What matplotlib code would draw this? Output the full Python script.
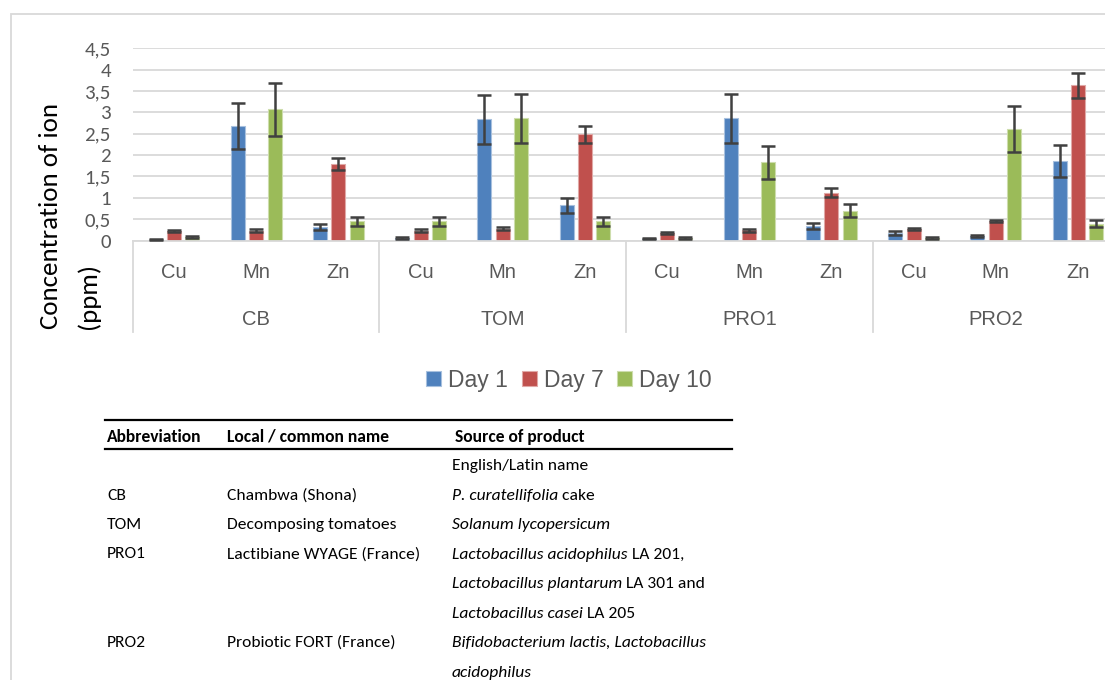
import matplotlib
matplotlib.use("Agg")
import matplotlib.pyplot as plt
from matplotlib import font_manager
from matplotlib.lines import Line2D
from matplotlib.patches import Rectangle
import numpy as np

# chart data
groups = ["CB", "TOM", "PRO1", "PRO2"]
ions = ["Cu", "Mn", "Zn"]
day1 = [0.02, 2.68, 0.31, 0.06, 2.84, 0.82, 0.04, 2.86, 0.33, 0.17, 0.11, 1.86]
day1_err = [0.01, 0.54, 0.07, 0.02, 0.57, 0.17, 0.01, 0.58, 0.07, 0.05, 0.03, 0.38]
day7 = [0.22, 0.23, 1.79, 0.23, 0.28, 2.49, 0.18, 0.24, 1.12, 0.27, 0.46, 3.63]
day7_err = [0.03, 0.03, 0.15, 0.03, 0.03, 0.20, 0.02, 0.03, 0.10, 0.02, 0.03, 0.30]
day10 = [0.08, 3.07, 0.45, 0.45, 2.86, 0.45, 0.06, 1.83, 0.70, 0.06, 2.61, 0.39]
day10_err = [0.02, 0.62, 0.10, 0.10, 0.58, 0.10, 0.02, 0.38, 0.15, 0.02, 0.53, 0.08]
series_names = ["Day 1", "Day 7", "Day 10"]
yticks = [0, 0.5, 1, 1.5, 2, 2.5, 3, 3.5, 4, 4.5]
ytick_labels = ["0", "0,5", "1", "1,5", "2", "2,5", "3", "3,5", "4", "4,5"]
ylabel_lines = ["Concentration of ion", "(ppm)"]

# table below the chart
tab_header = ["Abbreviation", "Local / common name", "Source of product"]
tab_abbrev = ["", "CB", "TOM", "PRO1", "", "", "PRO2", ""]
tab_local = ["", "Chambwa (Shona)", "Decomposing tomatoes", "Lactibiane WYAGE (France)",
             "", "", "Probiotic FORT (France)", ""]
tab_source = [
    [("English/Latin name", "normal")],
    [("P. curatellifolia", "italic"), (" cake", "normal")],
    [("Solanum lycopersicum", "italic")],
    [("Lactobacillus acidophilus", "italic"), (" LA 201,", "normal")],
    [("Lactobacillus plantarum", "italic"), (" LA 301 and", "normal")],
    [("Lactobacillus casei", "italic"), (" LA 205", "normal")],
    [("Bifidobacterium lactis, Lactobacillus", "italic")],
    [("acidophilus", "italic")],
]


def pick_font(names):
    for n in names:
        try:
            font_manager.findfont(n, fallback_to_default=False)
            return n
        except Exception:
            pass
    return "DejaVu Sans"


narrow = pick_font(["Carlito", "Lato", "Liberation Sans"])
sans = pick_font(["Liberation Sans", "DejaVu Sans"])
plt.rcParams["font.family"] = [sans, "DejaVu Sans"]

W, H = 1105, 680
fig = plt.figure(figsize=(W / 100, H / 100), dpi=100)
renderer = fig.canvas.get_renderer()


def fx(x):
    return x / W


def fy(y):
    return 1 - y / H


def fit_size(txt, target_px, **kw):
    # font size that makes txt about target_px wide
    t = fig.text(0, 0, txt, fontsize=10, **kw)
    w = t.get_window_extent(renderer).width
    t.remove()
    return 10 * target_px / w


# outer chart border (runs off the right and bottom edges)
fig.add_artist(Rectangle((fx(11), fy(700)), fx(1120) - fx(11), fy(14) - fy(700),
                         transform=fig.transFigure, fill=False,
                         edgecolor="#D9D9D9", lw=1.3))

ax_left, ax_right, ax_top, ax_bot = 133, 1119, 48.3, 240.5
ax = fig.add_axes([fx(ax_left), fy(ax_bot), fx(ax_right) - fx(ax_left), fy(ax_top) - fy(ax_bot)])

colors = ["#4F81BD", "#C0504D", "#9BBB59"]
edges = ["#A7C0DE", "#E0A8A6", "#CDDDAC"]
x = np.arange(len(groups) * len(ions))
step, bw = 0.223, 0.17
for i, (vals, errs) in enumerate([(day1, day1_err), (day7, day7_err), (day10, day10_err)]):
    ax.bar(x + (i - 1) * step, vals, bw, color=colors[i], edgecolor=edges[i],
           linewidth=0.8, label=series_names[i], zorder=2)
    ax.errorbar(x + (i - 1) * step, vals, yerr=errs, fmt="none", ecolor="#404040",
                elinewidth=1.8, capsize=4.7, capthick=1.8, zorder=3)

ax.set_xlim(-0.5, len(x) - 0.5)
ax.set_ylim(0, 4.5)
ax.set_yticks(yticks)
ax.set_yticklabels(ytick_labels)
ax.tick_params(axis="y", length=0, pad=16, labelsize=15, labelcolor="#595959")
for lab in ax.get_yticklabels():
    lab.set_family([narrow, "DejaVu Sans"])
ax.set_xticks([])
ax.grid(axis="y", color="#D9D9D9", lw=1.3, zorder=0)
ax.set_axisbelow(True)
for s in ["top", "right", "left"]:
    ax.spines[s].set_visible(False)
ax.spines["bottom"].set_color("#D9D9D9")
ax.spines["bottom"].set_linewidth(1.3)

# multi-level category axis
tr = ax.get_xaxis_transform()
hpx = ax_bot - ax_top
for k, xi in enumerate(x):
    ax.text(xi, -(272 - ax_bot) / hpx, ions[k % 3], transform=tr, ha="center", va="center",
            fontsize=14.5, color="#595959")
for g, name in enumerate(groups):
    ax.text(g * 3 + 1, -(319 - ax_bot) / hpx, name, transform=tr, ha="center", va="center",
            fontsize=14.5, color="#595959")
for g in range(len(groups) + 1):
    ax.plot([g * 3 - 0.5, g * 3 - 0.5], [0, -(332 - ax_bot) / hpx], transform=tr,
            color="#D9D9D9", lw=1.3, clip_on=False)

# y axis title, two lines drawn separately
tfont = [narrow, "DejaVu Sans"]
ysz = fit_size(ylabel_lines[0], 226, family=tfont)
fig.text(fx(51), fy(329), ylabel_lines[0], rotation=90, ha="center", va="bottom",
         fontsize=ysz, family=tfont, color="#000000")
fig.text(fx(88), fy(329), ylabel_lines[1], rotation=90, ha="center", va="bottom",
         fontsize=ysz, family=tfont, color="#000000")

leg = ax.legend(loc="center", bbox_to_anchor=(fx(569), fy(380)), bbox_transform=fig.transFigure,
                ncol=3, frameon=False, fontsize=16.5, handlelength=0.65, handleheight=0.65,
                handletextpad=0.3, columnspacing=0.6)
for t in leg.get_texts():
    t.set_color("#595959")

# table
fig.add_artist(Line2D([fx(105), fx(732)], [fy(419.5), fy(419.5)], transform=fig.transFigure,
                      color="black", lw=1.6))
fig.add_artist(Line2D([fx(105), fx(732)], [fy(449), fy(449)], transform=fig.transFigure,
                      color="black", lw=1.6))
tsz = fit_size("Lactibiane WYAGE (France)", 193, family=tfont)
col_x = [107, 227, 452]
for cx, h in zip([107, 227, 455], tab_header):
    fig.text(fx(cx), fy(437), h, ha="left", va="center", fontsize=tsz, fontweight="bold",
             family=tfont)

row_y0, row_step = 466, 29.5
for r in range(len(tab_source)):
    yy = fy(row_y0 + r * row_step)
    if tab_abbrev[r]:
        fig.text(fx(col_x[0]), yy, tab_abbrev[r], ha="left", va="center", fontsize=tsz, family=tfont)
    if tab_local[r]:
        fig.text(fx(col_x[1]), yy, tab_local[r], ha="left", va="center", fontsize=tsz, family=tfont)
    last = None
    for txt, style in tab_source[r]:
        if last is None:
            last = fig.text(fx(col_x[2]), yy, txt, ha="left", va="center", fontsize=tsz,
                            style=style, family=tfont)
        else:
            last = ax.annotate(txt, xy=(1, 0), xycoords=last, ha="left", va="bottom",
                               fontsize=tsz, style=style, family=tfont, annotation_clip=False)

fig.savefig("out.png", dpi=100)
